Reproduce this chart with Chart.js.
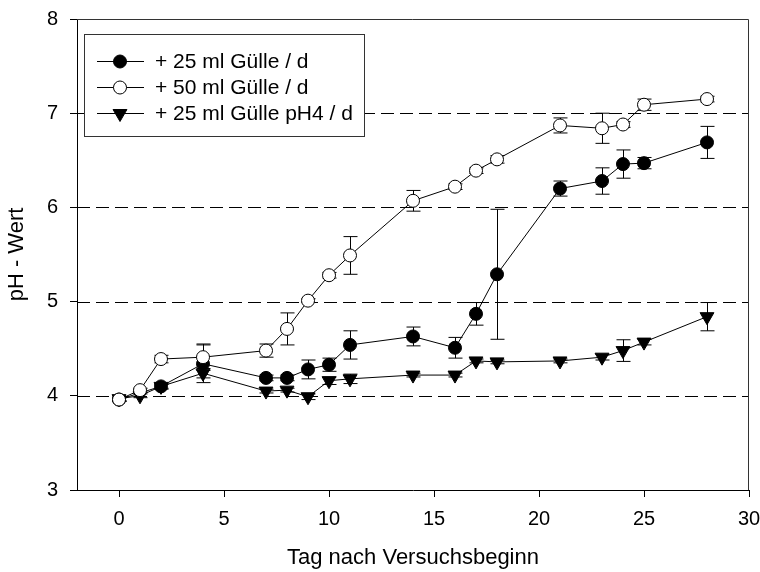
<!DOCTYPE html>
<html>
<head>
<meta charset="utf-8">
<script src="https://cdn.jsdelivr.net/npm/chart.js@4.4.1/dist/chart.umd.min.js"></script>
<style>
  html, body { margin: 0; padding: 0; background: #fff; }
  #wrap { width: 760px; height: 572px; }
</style>
</head>
<body>
<div id="wrap"><canvas id="chart1" width="760" height="572"></canvas></div>
<script>
// ----------------------------
// Data
// ----------------------------
const days25 = [0, 2, 4, 7, 8, 9, 10, 11, 14, 16, 17, 18, 21, 23, 24, 25, 28];
const ph25   = [3.96, 4.10, 4.34, 4.19, 4.19, 4.28, 4.33, 4.54, 4.63, 4.51, 4.87, 5.29, 6.20, 6.28, 6.46, 6.47, 6.69];
const err25  = [0.02, 0.03, 0.20, 0.03, 0.03, 0.10, 0.07, 0.15, 0.10, 0.11, 0.12, 0.69, 0.08, 0.14, 0.15, 0.06, 0.17];

const days50 = [0, 1, 2, 4, 7, 8, 9, 10, 11, 14, 16, 17, 18, 21, 23, 24, 25, 28];
const ph50   = [3.96, 4.06, 4.39, 4.41, 4.48, 4.71, 5.01, 5.28, 5.49, 6.07, 6.22, 6.39, 6.51, 6.87, 6.84, 6.88, 7.09, 7.15];
const err50  = [0.02, 0.02, 0.04, 0.14, 0.07, 0.17, 0.02, 0.03, 0.20, 0.11, 0.03, 0.03, 0.04, 0.08, 0.16, 0.03, 0.06, 0.03];

const daysPH4 = [0, 1, 2, 4, 7, 8, 9, 10, 11, 14, 16, 17, 18, 21, 23, 24, 25, 28];
const phPH4   = [3.97, 4.00, 4.10, 4.24, 4.05, 4.06, 3.99, 4.16, 4.18, 4.22, 4.22, 4.37, 4.36, 4.37, 4.41, 4.48, 4.57, 4.84];
const errPH4  = [0.02, 0.02, 0.02, 0.05, 0.02, 0.02, 0.03, 0.04, 0.05, 0.02, 0.02, 0.02, 0.02, 0.02, 0.03, 0.115, 0.03, 0.15];

const labels = ["+ 25 ml Gülle / d", "+ 50 ml Gülle / d", "+ 25 ml Gülle pH4 / d"];

const xTicks = [0, 5, 10, 15, 20, 25, 30];
const yTicks = [3, 4, 5, 6, 7, 8];
const refLines = [4, 5, 6, 7];   // dashed horizontal lines

const FAMILY = "'Liberation Sans', Arial, sans-serif";
const TICKFONT = { family: FAMILY, size: 20 };
const TITLEFONT = { family: FAMILY, size: 22 };
const LEGENDSIZE = 21;

// ----------------------------
// Helpers
// ----------------------------
function pts(xs, ys) { return xs.map((x, i) => ({ x: x, y: ys[i] })); }

function ds(label, xs, ys, errs, style, fill, order) {
  return {
    label,
    data: pts(xs, ys),
    errs,
    borderColor: "#000",
    borderWidth: 1,
    backgroundColor: fill,
    pointBackgroundColor: fill,
    pointBorderColor: "#000",
    pointBorderWidth: 1,
    pointStyle: style,
    pointRadius: style === "triangle" ? 8 : 6.5,
    pointRotation: style === "triangle" ? 180 : 0,
    tension: 0,
    fill: false,
    order
  };
}

// ----------------------------
// Plugin: dashed lines, error bars, frame, legend box
// ----------------------------
const decor = {
  id: "decor",
  beforeDatasetsDraw(chart) {
    const ctx = chart.ctx, a = chart.chartArea;
    const xs = chart.scales.x, ys = chart.scales.y;
    ctx.save();
    // dashed lines
    ctx.strokeStyle = "#000";
    ctx.lineWidth = 1;
    ctx.setLineDash([13, 6]);
    refLines.forEach(v => {
      const y = Math.round(ys.getPixelForValue(v)) + 0.5;
      ctx.beginPath(); ctx.moveTo(a.left, y); ctx.lineTo(a.right, y); ctx.stroke();
    });
    ctx.setLineDash([]);
    // error bars
    chart.data.datasets.forEach(d => {
      d.data.forEach((p, i) => {
        const e = d.errs[i];
        const x = Math.round(xs.getPixelForValue(p.x)) + 0.5;
        const yt = ys.getPixelForValue(p.y + e);
        const yb = ys.getPixelForValue(p.y - e);
        ctx.beginPath();
        ctx.moveTo(x, yt); ctx.lineTo(x, yb);
        ctx.moveTo(x - 7, yt); ctx.lineTo(x + 7, yt);
        ctx.moveTo(x - 7, yb); ctx.lineTo(x + 7, yb);
        ctx.stroke();
      });
    });
    ctx.restore();
  },
  afterDraw(chart) {
    const ctx = chart.ctx, a = chart.chartArea;
    ctx.save();
    // top + right frame
    ctx.strokeStyle = "#333";
    ctx.lineWidth = 1;
    ctx.beginPath();
    ctx.moveTo(a.left, a.top + 0.5); ctx.lineTo(a.right - 0.5, a.top + 0.5);
    ctx.lineTo(a.right - 0.5, a.bottom);
    ctx.stroke();

    // legend box
    const bx = a.left + 7, by = a.top + 15, bw = 280, bh = 102;
    ctx.fillStyle = "#fff";
    ctx.fillRect(bx, by, bw, bh);
    ctx.strokeStyle = "#333";
    ctx.strokeRect(bx + 0.5, by + 0.5, bw, bh);

    ctx.font = LEGENDSIZE + "px " + FAMILY;
    ctx.textBaseline = "middle";
    chart.data.datasets.forEach((d, i) => {
      const cy = by + 27 + i * 26;
      ctx.strokeStyle = "#000";
      ctx.beginPath(); ctx.moveTo(bx + 13, cy + 0.5); ctx.lineTo(bx + 60, cy + 0.5); ctx.stroke();
      ctx.fillStyle = d.pointBackgroundColor;
      ctx.lineWidth = 1;
      Chart.helpers.drawPoint(ctx, {
        pointStyle: d.pointStyle,
        radius: d.pointRadius,
        rotation: d.pointRotation,
        borderWidth: 1
      }, bx + 36, cy + 0.5);
      ctx.fillStyle = "#000";
      ctx.fillText(labels[i], bx + 71, cy + 1);
    });
    ctx.restore();
  }
};

// ----------------------------
// Chart
// ----------------------------
const ctx = document.getElementById("chart1").getContext("2d");
new Chart(ctx, {
  type: "line",
  data: {
    datasets: [
      ds(labels[0], days25, ph25, err25, "circle", "#000", 2),
      ds(labels[1], days50, ph50, err50, "circle", "#fff", 1),
      ds(labels[2], daysPH4, phPH4, errPH4, "triangle", "#000", 3)
    ]
  },
  options: {
    responsive: false,
    animation: false,
    events: [],
    layout: { padding: { left: 0, top: 19, right: 11, bottom: 0 } },
    plugins: {
      legend: { display: false },
      tooltip: { enabled: false }
    },
    scales: {
      x: {
        type: "linear",
        min: -2,
        max: 30,
        afterBuildTicks: s => { s.ticks = xTicks.map(v => ({ value: v })); },
        afterFit: s => { s.height = 82; s.paddingLeft = 0; s.paddingRight = 0; },
        ticks: { font: TICKFONT, color: "#000", padding: 10, maxRotation: 0, autoSkip: false },
        grid: { drawOnChartArea: false, drawTicks: true, tickLength: 7, color: "#000" },
        border: { color: "#000", width: 1 },
        title: { display: true, text: "Tag nach Versuchsbeginn", font: TITLEFONT, color: "#000", padding: { top: 0, bottom: 1 } }
      },
      y: {
        min: 3,
        max: 8,
        afterBuildTicks: s => { s.ticks = yTicks.map(v => ({ value: v })); },
        afterFit: s => { s.width = 77; s.paddingTop = 0; s.paddingBottom = 0; },
        ticks: { font: TICKFONT, color: "#000", padding: 12 },
        grid: { drawOnChartArea: false, drawTicks: true, tickLength: 7, color: "#000" },
        border: { color: "#000", width: 1 },
        title: { display: true, text: "pH - Wert", font: TITLEFONT, color: "#000", padding: { top: 4, bottom: 0 } }
      }
    }
  },
  plugins: [decor]
});
</script>
</body>
</html>
